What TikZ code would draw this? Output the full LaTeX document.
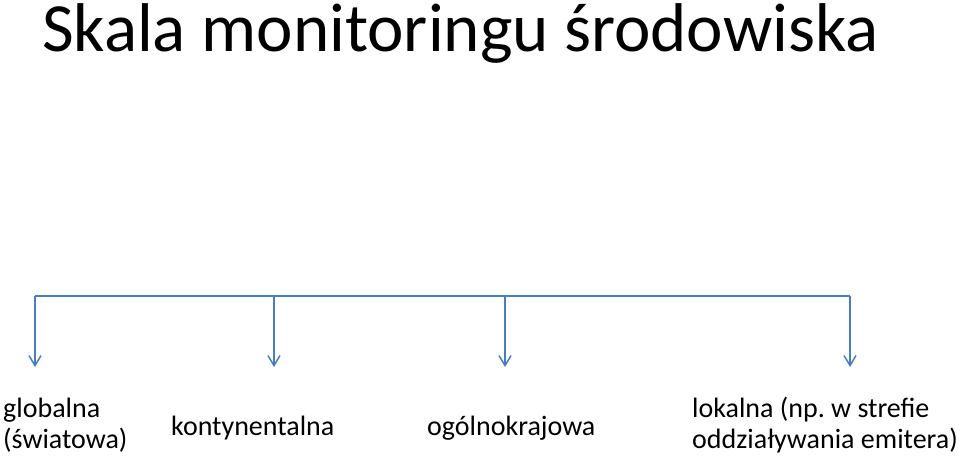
\documentclass[tikz,border=0pt]{standalone}
\usepackage{fontspec}
\setmainfont{Carlito}
\usetikzlibrary{arrows.meta}
\definecolor{busblue}{RGB}{74,126,187}
\frenchspacing

\begin{document}
\begin{tikzpicture}[x=1pt,y=-1pt,>={Straight Barb[length=10pt,width=12pt]},
  bus/.style={draw=busblue,line width=1.5pt},
  scalelabel/.style={inner sep=0pt,anchor=base west,align=left,font=\fontsize{28}{31}\selectfont}]
          \useasboundingbox (0,0) rectangle (960,459);

          \node[inner sep=0pt,anchor=base west,font=\fontsize{69}{83}\selectfont] (title) at (42,51) {Skala monitoringu środowiska};

          \coordinate (top1) at (35,296);
          \coordinate (top2) at (274,296);
          \coordinate (top3) at (505,296);
          \coordinate (top4) at (850,296);
          \coordinate (tip1) at (35,367);
          \coordinate (tip2) at (274,367);
          \coordinate (tip3) at (505,367);
          \coordinate (tip4) at (850,367);

          \draw[bus] (top1)--(top4);
          \draw[bus,->] (top1)--(tip1);
          \draw[bus,->] (top2)--(tip2);
          \draw[bus,->] (top3)--(tip3);
          \draw[bus,->] (top4)--(tip4);

          % two-line labels: base anchor sits on the last line
          \node[scalelabel] (global) at (3,448) {globalna\\(światowa)};
          \node[scalelabel] (contin) at (171,435) {kontynentalna};
          \node[scalelabel] (nation) at (427,435) {ogólnokrajowa};
          \node[scalelabel] (local) at (692,448) {lokalna (np. w strefie\\oddziaływania emitera)};
        \end{tikzpicture}
\end{document}
